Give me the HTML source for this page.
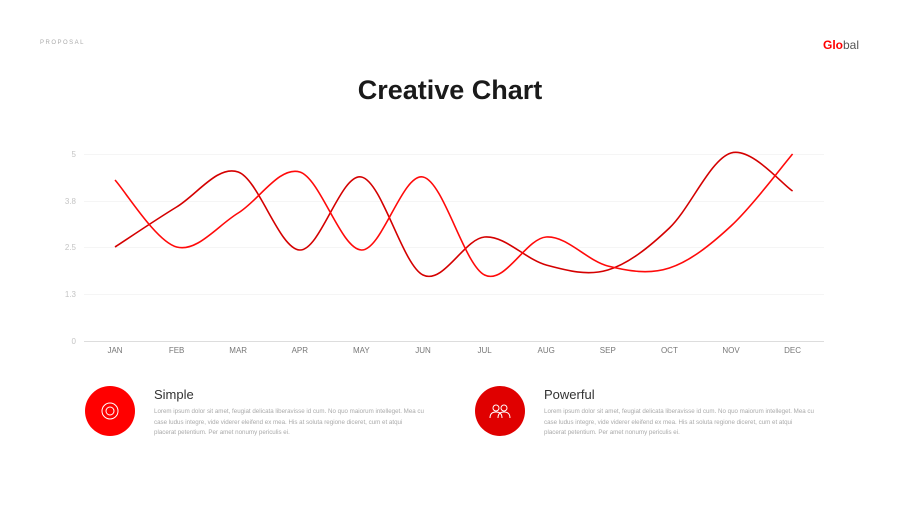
<!DOCTYPE html>
<html><head><meta charset="utf-8"><style>
body{margin:0;width:900px;height:506px;background:#fff;font-family:"Liberation Sans",sans-serif;overflow:hidden;position:relative}
.t{position:absolute}
</style></head><body>
<div class="t" style="left:40px;top:40px;font-size:6px;letter-spacing:1.5px;color:#aaa">PROPOSAL</div>
<div class="t" style="left:823px;top:38px;font-size:12px;font-weight:bold;color:#f00">Glo<span style="color:#555;font-weight:normal">bal</span></div>
<div class="t" style="left:0;width:900px;top:75px;text-align:center;font-size:27px;font-weight:bold;color:#1a1a1a">Creative Chart</div>
<svg class="t" style="left:0;top:0" width="900" height="506" id="s">
<g stroke="#f5f5f5" stroke-width="1">
<line x1="84" x2="824" y1="154.5" y2="154.5"/><line x1="84" x2="824" y1="201.5" y2="201.5"/>
<line x1="84" x2="824" y1="247.5" y2="247.5"/><line x1="84" x2="824" y1="294.5" y2="294.5"/>
</g>
<line x1="84" x2="824" y1="341.5" y2="341.5" stroke="#ddd"/>
<g font-size="8" fill="#c4c4c4" text-anchor="end" font-family="Liberation Sans">
<text x="76" y="157">5</text><text x="76" y="204">3.8</text><text x="76" y="250">2.5</text><text x="76" y="297">1.3</text><text x="76" y="344">0</text></g>
<g font-size="8" fill="#777" text-anchor="middle" font-family="Liberation Sans" id="xl"></g>
<path id="a" fill="none" stroke="#d40000" stroke-width="1.6"/>
<path id="b" fill="none" stroke="#ff0a0a" stroke-width="1.6"/>
<circle cx="110" cy="411" r="25" fill="#f00"/>
<circle cx="500" cy="411" r="25" fill="#e00000"/>
<g stroke="#fff" fill="none" stroke-width="1">
<circle cx="110" cy="411" r="8"/><circle cx="110" cy="411" r="4"/>
<circle cx="496" cy="408" r="3"/><circle cx="504" cy="408" r="3"/>
<path d="M490 418q0-6 6-6q6 0 6 6M498 418q0-6 6-6q6 0 6 6"/></g>
</svg>
<div class="t" style="left:154px;top:387px;font-size:13px;color:#333">Simple</div>
<div class="t" style="left:154px;top:407px;width:270px;font-size:6.2px;line-height:10.5px;color:#aaa">Lorem ipsum dolor sit amet, feugiat delicata liberavisse id cum. No quo maiorum intelleget. Mea cu case ludus integre, vide viderer eleifend ex mea. His at soluta regione diceret, cum et atqui placerat petentium. Per amet nonumy periculis ei.</div>
<div class="t" style="left:544px;top:387px;font-size:13px;color:#333">Powerful</div>
<div class="t" style="left:544px;top:407px;width:270px;font-size:6.2px;line-height:10.5px;color:#aaa">Lorem ipsum dolor sit amet, feugiat delicata liberavisse id cum. No quo maiorum intelleget. Mea cu case ludus integre, vide viderer eleifend ex mea. His at soluta regione diceret, cum et atqui placerat petentium. Per amet nonumy periculis ei.</div>
<script>
var m=["JAN","FEB","MAR","APR","MAY","JUN","JUL","AUG","SEP","OCT","NOV","DEC"],xs=[],g=document.getElementById("xl"),s="";
for(var i=0;i<12;i++){xs.push(115+i*61.6);s+='<text x="'+xs[i]+'" y="353">'+m[i]+'</text>';}
g.innerHTML=s;
function p(ys){var P=ys.map(function(y,i){return[xs[i],y]});var d="M"+P[0];
for(var i=0;i<P.length-1;i++){var p0=P[i-1]||P[i],p1=P[i],p2=P[i+1],p3=P[i+2]||P[i+1];
var t=1/6;d+=" C"+(p1[0]+(p2[0]-p0[0])*t)+","+(p1[1]+(p2[1]-p0[1])*t)+" "+(p2[0]-(p3[0]-p1[0])*t)+","+(p2[1]-(p3[1]-p1[1])*t)+" "+p2;}return d;}
document.getElementById("a").setAttribute("d",p([247,207,172,250,177,275,237,265,270,228,153,191]));
document.getElementById("b").setAttribute("d",p([180,247,213,172,250,177,275,237,266,268,226,154]));
</script>
</body></html>
